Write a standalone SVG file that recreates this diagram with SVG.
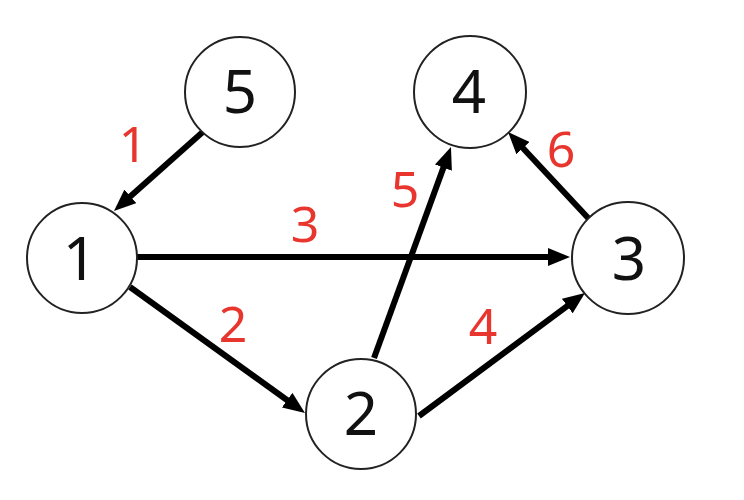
<svg xmlns="http://www.w3.org/2000/svg" width="744" height="500" viewBox="0 0 744 500">
<style>
.node circle{fill:#fff;stroke:#222;stroke-width:2}
.node text{font-family:"Noto Sans","Open Sans",sans-serif;font-size:60px;fill:#111;text-anchor:middle}
.edge line{stroke:#000;stroke-width:6}
.lbl{font-family:"Noto Sans","Open Sans",sans-serif;font-size:50px;fill:#e8362e;text-anchor:middle}
</style>
<defs>
<marker id="arr" markerUnits="userSpaceOnUse" markerWidth="22" markerHeight="18" refX="4" refY="9" orient="auto" viewBox="0 0 22 18">
<path d="M0,0 L22,9 L0,18 z" fill="#000"/>
</marker>
</defs>
<rect width="744" height="500" fill="#fff"/>
<g id="connectors" class="edge">
<g id="e51"><line x1="205" y1="130" x2="127.4" y2="199" marker-end="url(#arr)"/><text class="lbl" x="133" y="162">1</text></g>
<g id="e13"><line x1="136" y1="257" x2="552" y2="257" marker-end="url(#arr)"/><text class="lbl" x="305" y="242">3</text></g>
<g id="e12"><line x1="130" y1="287" x2="290.4" y2="402.5" marker-end="url(#arr)"/><text class="lbl" x="233" y="342">2</text></g>
<g id="e24"><line x1="374" y1="358" x2="444.8" y2="163.9" marker-end="url(#arr)"/><text class="lbl" x="405" y="207">5</text></g>
<g id="e23"><line x1="419" y1="416" x2="570.5" y2="303.7" marker-end="url(#arr)"/><text class="lbl" x="483" y="344">4</text></g>
<g id="e34"><line x1="590" y1="220" x2="520.3" y2="145.2" marker-end="url(#arr)"/><text class="lbl" x="561" y="167">6</text></g>
</g>
<g id="n5" class="node"><circle cx="240" cy="92" r="55"/><text x="240" y="113">5</text></g>
<g id="n4" class="node"><circle cx="470" cy="92" r="56"/><text x="469" y="113">4</text></g>
<g id="n1" class="node"><circle cx="82" cy="258" r="55"/><text x="80" y="280">1</text></g>
<g id="n3" class="node"><circle cx="628" cy="258" r="56"/><text x="629" y="280">3</text></g>
<g id="n2" class="node"><circle cx="361" cy="414" r="55"/><text x="361" y="435">2</text></g>
</svg>
